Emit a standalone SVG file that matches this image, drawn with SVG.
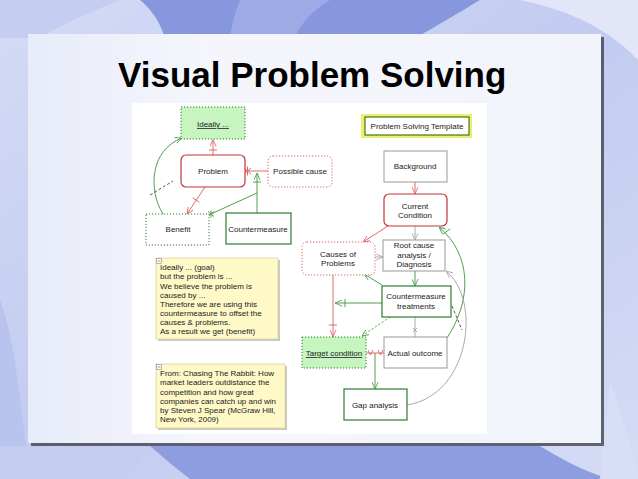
<svg xmlns="http://www.w3.org/2000/svg" width="638" height="479" viewBox="0 0 638 479">
<defs>
<style>
.t{font-family:"Liberation Sans",Arial,sans-serif;font-size:8px;fill:#222;text-anchor:middle}
.n{font-family:"Liberation Sans",Arial,sans-serif;font-size:8px;fill:#222}
.title{font-family:"Liberation Sans",Arial,sans-serif;font-size:35px;font-weight:bold;fill:#000}
.gray{fill:#fff;stroke:#999;stroke-width:1}
.red{fill:#fff;stroke:#c03535;stroke-width:1.2}
.redd{fill:#fff;stroke:#d06060;stroke-width:1;stroke-dasharray:1.2,1.8}
.grn{fill:#fff;stroke:#2e7d2e;stroke-width:1.2}
.grnd{fill:#fff;stroke:#2e7d2e;stroke-width:1;stroke-dasharray:1.2,1.8}
.grnf{fill:#c6f5c0;stroke:#2e7d2e;stroke-width:1;stroke-dasharray:1.2,1.8}
.note{fill:#fff9c8;stroke:#ddd5a0;stroke-width:0.8}
.shadow{fill:#c9c9c0}
.lr{fill:none;stroke:#e06a6a;stroke-width:1}
.lg{fill:none;stroke:#4ea04e;stroke-width:1}
.lgy{fill:none;stroke:#aaa;stroke-width:1}
.ld{fill:none;stroke:#555;stroke-width:1;stroke-dasharray:3,2}
</style>
<marker id="ar" viewBox="0 0 8 8" refX="8" refY="4" markerWidth="7" markerHeight="7" orient="auto" markerUnits="userSpaceOnUse"><path d="M0,0.5 L8,4 L0,7.5" fill="none" stroke="#e06a6a" stroke-width="1"/></marker>
<marker id="ag" viewBox="0 0 8 8" refX="8" refY="4" markerWidth="7" markerHeight="7" orient="auto" markerUnits="userSpaceOnUse"><path d="M0,0.5 L8,4 L0,7.5" fill="none" stroke="#4ea04e" stroke-width="1"/></marker>
<marker id="agy" viewBox="0 0 8 8" refX="8" refY="4" markerWidth="7" markerHeight="7" orient="auto" markerUnits="userSpaceOnUse"><path d="M0,0.5 L8,4 L0,7.5" fill="none" stroke="#aaa" stroke-width="1"/></marker>
<linearGradient id="bg" x1="0" y1="0" x2="1" y2="1"><stop offset="0" stop-color="#d4dbf5"/><stop offset="0.5" stop-color="#c2cbf0"/><stop offset="1" stop-color="#d6dcf5"/></linearGradient>
<linearGradient id="pn" x1="0" y1="0" x2="1" y2="0"><stop offset="0" stop-color="#e8ecf9"/><stop offset="0.3" stop-color="#f4f6fc"/><stop offset="1" stop-color="#f2f4fb"/></linearGradient>
</defs>
<g id="background">
<rect x="0" y="0" width="638" height="479" fill="url(#bg)"/>
<path d="M140,0 L480,0 C455,15 430,30 415,38 L165,38 C160,22 152,10 140,0Z" fill="#8797de"/>
<path d="M240,0 L330,0 C310,12 300,25 295,38 L230,38 C232,22 236,10 240,0Z" fill="#a6b2e8" opacity="0.7"/>
<path d="M0,0 L120,0 C90,12 60,25 40,38 L0,38Z" fill="#c5cdf0"/>
<path d="M520,0 L638,0 L638,60 C610,30 570,10 520,0Z" fill="#e2e6f8"/>
<path d="M0,300 C15,340 20,400 30,479 L0,479Z" fill="#b8c3ee"/>
<path d="M150,446 L540,446 C560,458 580,470 610,479 L190,479 C175,468 162,456 150,446Z" fill="#8d9de0"/>
<path d="M0,446 L150,446 C140,458 130,470 120,479 L0,479Z" fill="#c4ccf0"/>
<path d="M610,380 C625,420 630,450 638,470 L638,479 L600,479Z" fill="#d8def6"/>
</g>
<g id="panel">
<rect x="31" y="37" width="573" height="409" fill="#3a3a44" opacity="0.75"/>
<rect x="28" y="34" width="573" height="409" fill="url(#pn)"/>
<text class="title" x="118" y="87">Visual Problem Solving</text>
<rect x="132" y="103" width="355" height="331" fill="#fff"/>
</g>
<g id="connectors">
<path class="lr" d="M213,155 L213,139.5" marker-end="url(#ar)"/>
<path class="lr" d="M209,150 L217,150"/>
<path class="lr" d="M268,171 L245,171"/>
<path class="lr" d="M244,168 L251,174 M244,174 L251,168 M247.5,166.5 L247.5,175.5"/>
<path class="lg" d="M257,213 L257,173" marker-end="url(#ag)"/>
<path class="lg" d="M253,182 L261,182"/>
<path class="lg" d="M257,193 L211,214"/>
<path class="lg" d="M208,211.5 L214,216.5 M208,216.5 L214,211.5 M211,210.5 L211,217.5"/>
<path class="lr" d="M205,187 L187,214" marker-end="url(#ar)"/>
<path class="lr" d="M192.7,197.8 L199.3,202.2"/>
<path class="lg" d="M163,214 C148,190 150,150 182,138" marker-end="url(#ag)"/>
<path class="ld" d="M150,195 L173,181"/>
<path class="lr" d="M415,182 L415,194" marker-end="url(#ar)"/>
<path class="lr" d="M388,226 L363,242" marker-end="url(#ar)"/>
<path class="lgy" d="M415,226 L415,240" marker-end="url(#agy)"/>
<path class="lgy" d="M375,257 L383,257" marker-end="url(#agy)"/>
<path class="lg" d="M415,271 L415,286" marker-end="url(#ag)"/>
<path class="lg" d="M382,285 L364,274" marker-end="url(#ag)"/>
<path class="lg" d="M382,303 L335,303" marker-end="url(#ag)"/>
<path class="lg" d="M345,299 L345,307"/>
<path class="lr" d="M333,275 L333,337" marker-end="url(#ar)"/>
<path class="lr" d="M329,325 L337,325"/>
<path class="lg" d="M390,317 L362,336" marker-end="url(#ag)" stroke-dasharray="2,2"/>
<path class="lgy" d="M415,317 L415,337"/>
<path class="lgy" d="M413,328 L417,332 M413,332 L417,328"/>
<path class="lr" d="M366,353 L384,353"/>
<path class="lr" d="M368,350 L370.5,355 L373,350 M378,350 L380.5,355 L383,350"/>
<path class="lg" d="M375,353 L375,389" marker-end="url(#ag)"/>
<path class="lg" d="M447,338 C472,300 472,255 439,227" marker-end="url(#ag)"/>
<path class="lg" d="M443,234 L450,229"/>
<path class="lgy" d="M407,405 C470,395 482,300 446,271" marker-end="url(#agy)"/>
<path class="ld" d="M452,306 L462,330"/>
</g>
<g id="ideally"><rect class="grnf" x="181" y="107" width="64" height="32"/><text class="t" x="213" y="127" text-decoration="underline">Ideally ...</text></g>
<g id="problem"><rect class="red" x="181" y="155" width="64" height="32" rx="5"/><text class="t" x="213" y="174">Problem</text></g>
<g id="possible-cause"><rect class="redd" x="268" y="156" width="64" height="31" rx="5"/><text class="t" x="300" y="174">Possible cause</text></g>
<g id="benefit"><rect class="grnd" x="146" y="214" width="63" height="31"/><text class="t" x="178" y="232">Benefit</text></g>
<g id="countermeasure"><rect class="grn" x="226" y="213" width="65" height="31"/><text class="t" x="258" y="232">Countermeasure</text></g>
<g id="template"><rect x="361" y="114" width="111" height="24" fill="#f0ec6c"/><rect x="365" y="117" width="104" height="18" fill="#fff" stroke="#3a7a1a" stroke-width="1.2"/><text class="t" x="417" y="129">Problem Solving Template</text></g>
<g id="background-node"><rect class="gray" x="384" y="151" width="63" height="31"/><text class="t" x="415" y="169">Background</text></g>
<g id="current-condition"><rect class="red" x="384" y="194" width="63" height="32" rx="5"/><text class="t" x="415" y="209">Current</text><text class="t" x="415" y="218">Condition</text></g>
<g id="causes"><rect class="redd" x="302" y="242" width="73" height="33" rx="5"/><text class="t" x="338" y="257">Causes of</text><text class="t" x="338" y="266">Problems</text></g>
<g id="root-cause"><rect class="gray" x="383" y="240" width="62" height="31"/><text class="t" x="414" y="248">Root cause</text><text class="t" x="414" y="258">analysis /</text><text class="t" x="414" y="267">Diagnosis</text></g>
<g id="countermeasure-treatments"><rect class="grn" x="382" y="286" width="69" height="31"/><text class="t" x="416" y="299">Countermeasure</text><text class="t" x="416" y="309">treatments</text></g>
<g id="target-condition"><rect class="grnf" x="302" y="337" width="64" height="31"/><text class="t" x="334" y="356" text-decoration="underline">Target condition</text></g>
<g id="actual-outcome"><rect class="gray" x="384" y="337" width="63" height="31"/><text class="t" x="415" y="356">Actual outcome</text></g>
<g id="gap-analysis"><rect class="grn" x="344" y="389" width="63" height="31"/><text class="t" x="375" y="408">Gap analysis</text></g>
<g id="note1">
<rect class="shadow" x="158" y="260" width="122" height="81"/>
<rect class="note" x="156" y="258" width="122" height="81"/>
<rect x="156.5" y="258.5" width="5" height="5" fill="#fff" stroke="#888" stroke-width="0.6"/><path d="M157.5,261 L160.5,261" stroke="#666" stroke-width="0.6"/>
<text class="n" x="160" y="270">Ideally ... (goal)</text>
<text class="n" x="160" y="279">but the problem is ...</text>
<text class="n" x="160" y="289">We believe the problem is</text>
<text class="n" x="160" y="298">caused by ...</text>
<text class="n" x="160" y="307">Therefore we are using this</text>
<text class="n" x="160" y="316">countermeasure to offset the</text>
<text class="n" x="160" y="325">causes &amp; problems.</text>
<text class="n" x="160" y="334">As a result we get (benefit)</text>
</g>
<g id="note2">
<rect class="shadow" x="158" y="366" width="129" height="64"/>
<rect class="note" x="156" y="364" width="129" height="64"/>
<rect x="156.5" y="364.5" width="5" height="5" fill="#fff" stroke="#888" stroke-width="0.6"/><path d="M157.5,367 L160.5,367" stroke="#666" stroke-width="0.6"/>
<text class="n" x="160" y="376">From: Chasing The Rabbit: How</text>
<text class="n" x="160" y="385">market leaders outdistance the</text>
<text class="n" x="160" y="395">competition and how great</text>
<text class="n" x="160" y="404">companies can catch up and win</text>
<text class="n" x="160" y="413">by Steven J Spear (McGraw Hill,</text>
<text class="n" x="160" y="422">New York, 2009)</text>
</g>
</svg>
